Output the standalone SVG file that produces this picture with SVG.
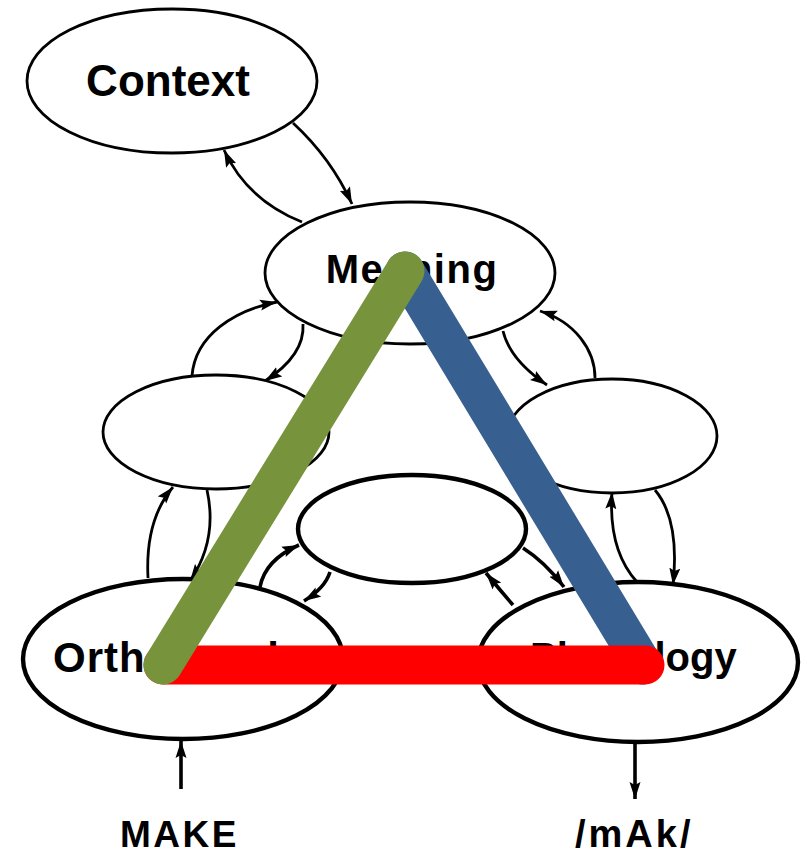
<svg xmlns="http://www.w3.org/2000/svg" width="807" height="857" viewBox="0 0 807 857">
<defs>
<marker id="ah" markerUnits="userSpaceOnUse" markerWidth="18" markerHeight="12" refX="17" refY="6" orient="auto">
<path d="M0,0.5 L17,6 L0,11.5 L3,6 z" fill="#000"/>
</marker>
<style>
.n{fill:#fff;stroke:#000;stroke-width:2.8}
.nb{fill:#fff;stroke:#000;stroke-width:4.4}
.t{font-family:"Liberation Sans",Arial,sans-serif;font-weight:bold;fill:#000}
.c{fill:none;stroke:#000;stroke-width:2.8;marker-end:url(#ah)}
.ct{stroke-width:3.6}
.bar{fill:none;stroke-width:39;stroke-linecap:round}
</style>
</defs>
<rect width="807" height="857" fill="#fff"/>
<g id="connectors">
<path class="c" d="M293,123 Q331,158 352,204"/>
<path class="c" d="M302,222 Q247,200 224,150"/>
<path class="c" d="M192,376 C195,335 235,310 277,302"/>
<path class="c" d="M303,324 Q305,355 265,381"/>
<path class="c" d="M503,331 Q510,360 547,385"/>
<path class="c" d="M595,378 C595,350 575,322 540,311"/>
<path class="c" d="M148,578 Q145,520 173,487"/>
<path class="c" d="M207,490 Q218,540 190,581"/>
<path class="c" d="M637,582 Q608,550 612,492"/>
<path class="c" d="M655,490 Q680,520 673,585"/>
<path class="c ct" d="M260,587 Q265,560 299,545"/>
<path class="c ct" d="M330,572 Q325,588 304,601"/>
<path class="c ct" d="M523,548 Q545,562 564,587"/>
<path class="c ct" d="M513,605 Q500,590 486,573"/>
<path class="c ct" d="M181,789 L181,741"/>
<path class="c ct" d="M635,742 L635,799"/>
</g>
<g id="context">
<ellipse class="n" cx="172" cy="81" rx="145" ry="72"/>
<text class="t" x="168" y="96" font-size="44" text-anchor="middle">Context</text>
</g>
<g id="meaning">
<ellipse class="n" cx="410" cy="273" rx="145" ry="71"/>
<text class="t" x="412" y="283" font-size="40" letter-spacing="1.5" text-anchor="middle">Meaning</text>
</g>
<g id="left-middle">
<ellipse class="n" cx="216" cy="432" rx="113" ry="57"/>
</g>
<g id="right-middle">
<ellipse class="n" cx="612" cy="436" rx="105" ry="57"/>
</g>
<g id="center">
<ellipse class="nb" cx="412" cy="529" rx="114" ry="54"/>
</g>
<g id="orthography">
<ellipse class="nb" cx="183" cy="659" rx="160" ry="80"/>
<text class="t" x="53" y="672" font-size="42" letter-spacing="1">Orthography</text>
</g>
<g id="phonology">
<ellipse class="nb" cx="638" cy="662" rx="160" ry="80"/>
<text class="t" x="530" y="671" font-size="40">Phonology</text>
</g>
<g id="labels">
<text class="t" x="120" y="847" font-size="37" letter-spacing="2.5">MAKE</text>
<text class="t" x="575" y="847" font-size="38" letter-spacing="3">/mAk/</text>
</g>
<g id="triangle">
<line class="bar" x1="405" y1="271" x2="643" y2="665" stroke="#375F8F"/>
<line class="bar" x1="163" y1="665" x2="645" y2="665" stroke="#FF0000"/>
<line class="bar" x1="405" y1="271" x2="163" y2="665" stroke="#77933C"/>
</g>
</svg>
